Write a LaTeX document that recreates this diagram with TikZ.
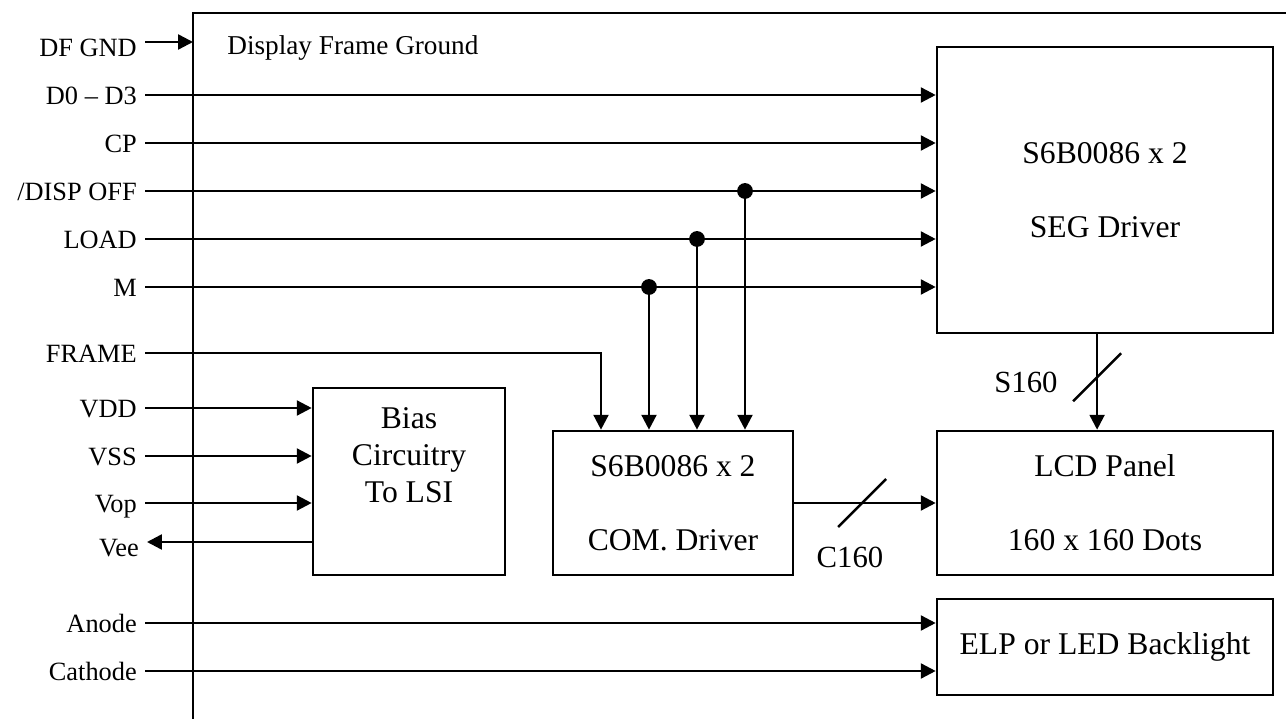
\documentclass[tikz,border=0pt]{standalone}
\usepackage{fontspec}
\setmainfont{Liberation Serif}
\usetikzlibrary{arrows.meta}
\tikzset{
  blkbox/.style={draw, line width=1.5pt, inner sep=2pt, align=center,
    font=\fontsize{18}{21}\selectfont},
  pinlbl/.style={anchor=east, inner ysep=0pt, inner xsep=4.5pt,
    text height=11.3pt, text depth=0pt, font=\fontsize{15}{17}\selectfont},
  buslbl/.style={inner sep=0pt, font=\fontsize{17.5}{20}\selectfont},
  sig/.style={line width=1.4pt, -{Triangle[length=8.5pt, width=8.5pt]}},
  tap/.style={circle, fill, inner sep=0pt, minimum size=9pt},
  busmark/.style={line width=1.4pt},
}

\begin{document}
\begin{tikzpicture}[x=0.02cm, y=-0.02cm]
  \useasboundingbox (0,0) rectangle (1286,719);

  % display frame (left and top edge only)
  \coordinate (frmtop) at (193,13);
  \draw[line width=1.5pt] (193,719) -- (frmtop) -- (1286,13);
  \node[anchor=west, inner sep=0pt, font=\fontsize{15.5}{18}\selectfont] (dfglbl) at (227,48) {Display Frame Ground};

  % blocks
  \node[blkbox, minimum width=6.72cm, minimum height=5.72cm] (seg) at (1105,190) {S6B0086 x 2\\[21pt]SEG Driver};
  \node[blkbox, minimum width=6.72cm, minimum height=2.88cm] (lcd) at (1105,503) {LCD Panel\\[21pt]160 x 160 Dots};
  \node[blkbox, minimum width=6.72cm, minimum height=1.92cm] (bkl) at (1105,647) {ELP or LED Backlight};
  \node[blkbox, minimum width=4.8cm, minimum height=2.88cm] (com) at (673,503) {S6B0086 x 2\\[21pt]COM. Driver};
  \node[blkbox, minimum width=3.84cm, minimum height=3.74cm] (bias) at (409,481.5) {};
  \node[align=center, inner sep=0pt, font=\fontsize{18}{21}\selectfont] (biastxt) at (409,455) {Bias\\Circuitry\\To LSI};

  % pin names
  \node[pinlbl, yshift=-2.5pt] (dfgnd) at (145,42) {DF GND};
  \node[pinlbl] (d03) at (145,95) {D0 -- D3};
  \node[pinlbl] (cp) at (145,143) {CP};
  \node[pinlbl] (disp) at (145,191) {/DISP OFF};
  \node[pinlbl] (load) at (145,239) {LOAD};
  \node[pinlbl] (m) at (145,287) {M};
  \node[pinlbl] (frame) at (145,353) {FRAME};
  \node[pinlbl] (vdd) at (145,408) {VDD};
  \node[pinlbl] (vss) at (145,456) {VSS};
  \node[pinlbl] (vop) at (145,503) {Vop};
  \node[pinlbl, yshift=-2.5pt] (vee) at (147,542) {Vee};
  \node[pinlbl] (anode) at (145,623) {Anode};
  \node[pinlbl] (cathode) at (145,671) {Cathode};

  % taps
  \node[tap] (tapdisp) at (745,191) {};
  \node[tap] (tapload) at (697,239) {};
  \node[tap] (tapm) at (649,287) {};
  \coordinate (frmbend) at (601,353);

  % signals
  \draw[sig] ([yshift=2.5pt]dfgnd.east) -- ([yshift=2.5pt]dfgnd.east -| frmtop);
  \draw[sig] (d03.east) -- (d03 -| seg.west);
  \draw[sig] (cp.east) -- (cp -| seg.west);
  \draw[sig] (disp.east) -- (disp -| seg.west);
  \draw[sig] (load.east) -- (load -| seg.west);
  \draw[sig] (m.east) -- (m -| seg.west);
  \draw[sig] (tapdisp.center) -- (tapdisp |- com.north);
  \draw[sig] (tapload.center) -- (tapload |- com.north);
  \draw[sig] (tapm.center) -- (tapm |- com.north);
  \draw[sig] (frame.east) -- (frmbend) -- (frmbend |- com.north);
  \draw[sig] (vdd.east) -- (vdd -| bias.west);
  \draw[sig] (vss.east) -- (vss -| bias.west);
  \draw[sig] (vop.east) -- (vop -| bias.west);
  \draw[sig] ([yshift=2.5pt]vee.east -| bias.west) -- ([yshift=2.5pt]vee.east);
  \draw[sig] (anode.east) -- (anode -| bkl.west);
  \draw[sig] (cathode.east) -- (cathode -| bkl.west);

  % buses
  \draw[sig] ([xshift=-4.5pt]seg.south) -- node[pos=0.45, inner sep=0pt] (smark) {} ([xshift=-4.5pt]lcd.north);
  \draw[busmark] (smark.center) +(-24,24) -- +(24,-24);
  \node[buslbl] (s160) at (1026,382) {S160};
  \draw[sig] (com.east) -- node[pos=0.48, inner sep=0pt] (cmark) {} (lcd.west);
  \draw[busmark] (cmark.center) +(-24,24) -- +(24,-24);
  \node[buslbl] (c160) at (850,557) {C160};
\end{tikzpicture}
\end{document}
